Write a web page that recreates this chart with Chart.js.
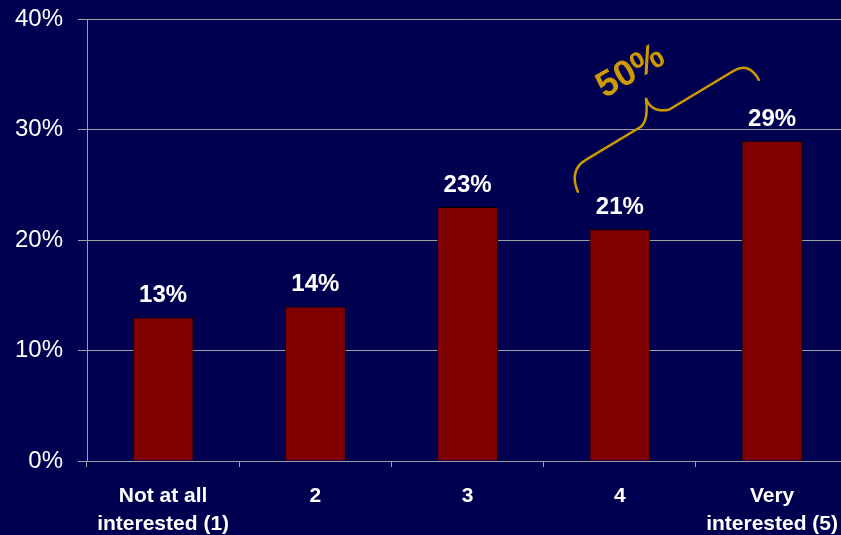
<!DOCTYPE html>
<html>
<head>
<meta charset="utf-8">
<script src="https://cdn.jsdelivr.net/npm/chart.js@4/dist/chart.umd.min.js"></script>
<style>
    html, body { margin: 0; padding: 0; background: #000050; overflow: hidden; }
    #wrap { width: 853px; height: 545px; margin-top: -10px; position: relative; }
</style>
</head>
<body>
<div id="wrap"><canvas id="chart"></canvas></div>
<script>
const categories = [['Not at all', 'interested (1)'], '2', '3', '4', ['Very', 'interested (5)']];
const percentages = [13, 14, 23, 21, 29];
const yTicks = [0, 10, 20, 30, 40];
const braceLabel = '50%';

const FONT = '"Liberation Sans", Arial, sans-serif';
const GOLD = '#cc9900';

// value labels above each bar
const barLabels = {
    id: 'barLabels',
    afterDatasetsDraw(chart) {
        const ctx = chart.ctx;
        const meta = chart.getDatasetMeta(0);
        ctx.save();
        ctx.font = 'bold 24px ' + FONT;
        ctx.fillStyle = '#ffffff';
        ctx.textAlign = 'center';
        ctx.textBaseline = 'alphabetic';
        meta.data.forEach((bar, i) => {
            ctx.fillText(percentages[i] + '%', bar.x, bar.y - 15);
        });
        ctx.restore();
    }
};

// curly brace over the top two answers
const braceNote = {
    id: 'braceNote',
    afterDraw(chart) {
        const ctx = chart.ctx;
        const x0 = chart.scales.x.getPixelForValue(3);
        const y0 = chart.scales.y.getPixelForValue(30);
        ctx.save();
        ctx.translate(x0, y0);
        ctx.strokeStyle = GOLD;
        ctx.lineWidth = 2.5;
        ctx.lineCap = 'round';
        ctx.beginPath();
        ctx.moveTo(-42, 62);
        ctx.quadraticCurveTo(-51, 40, -34, 30);
        ctx.lineTo(21, -3);
        ctx.quadraticCurveTo(29, -10, 26, -32);
        ctx.quadraticCurveTo(31, -17, 49, -20);
        ctx.lineTo(114, -59);
        ctx.quadraticCurveTo(129, -68, 139, -50);
        ctx.stroke();

        ctx.translate(11, -58);
        ctx.rotate(-30 * Math.PI / 180);
        ctx.fillStyle = GOLD;
        ctx.font = 'bold 36px ' + FONT;
        ctx.textAlign = 'center';
        ctx.textBaseline = 'middle';
        ctx.fillText(braceLabel, 0, 0);
        ctx.restore();
    }
};

const ctx = document.getElementById('chart').getContext('2d');
new Chart(ctx, {
    type: 'bar',
    data: {
        labels: categories,
        datasets: [{
            data: percentages,
            backgroundColor: '#800000',
            borderColor: '#000000',
            borderWidth: 1,
            barPercentage: 0.4,
            categoryPercentage: 1
        }]
    },
    options: {
        responsive: true,
        maintainAspectRatio: false,
        animation: false,
        layout: { padding: 0 },
        plugins: {
            legend: { display: false },
            tooltip: { enabled: false }
        },
        scales: {
            x: {
                offset: true,
                grid: {
                    offset: true,
                    drawOnChartArea: false,
                    color: '#a0a0a0',
                    tickLength: 6
                },
                border: { color: '#a0a0a0', width: 1 },
                ticks: {
                    color: '#ffffff',
                    font: { family: FONT, size: 21, weight: 'bold', lineHeight: 1.33 },
                    padding: 15,
                    maxRotation: 0,
                    autoSkip: false
                },
                afterFit(scale) { scale.height = 74; }
            },
            y: {
                min: 0,
                max: 40,
                afterBuildTicks(scale) {
                    scale.ticks = yTicks.map(v => ({ value: v }));
                },
                grid: {
                    color: '#a0a0a0',
                    tickLength: 9
                },
                border: { color: '#a0a0a0', width: 1 },
                ticks: {
                    color: '#ffffff',
                    font: { family: FONT, size: 24 },
                    padding: 15,
                    callback: v => v + '%'
                },
                afterFit(scale) { scale.width = 87; }
            }
        }
    },
    plugins: [barLabels, braceNote]
});
</script>
</body>
</html>
